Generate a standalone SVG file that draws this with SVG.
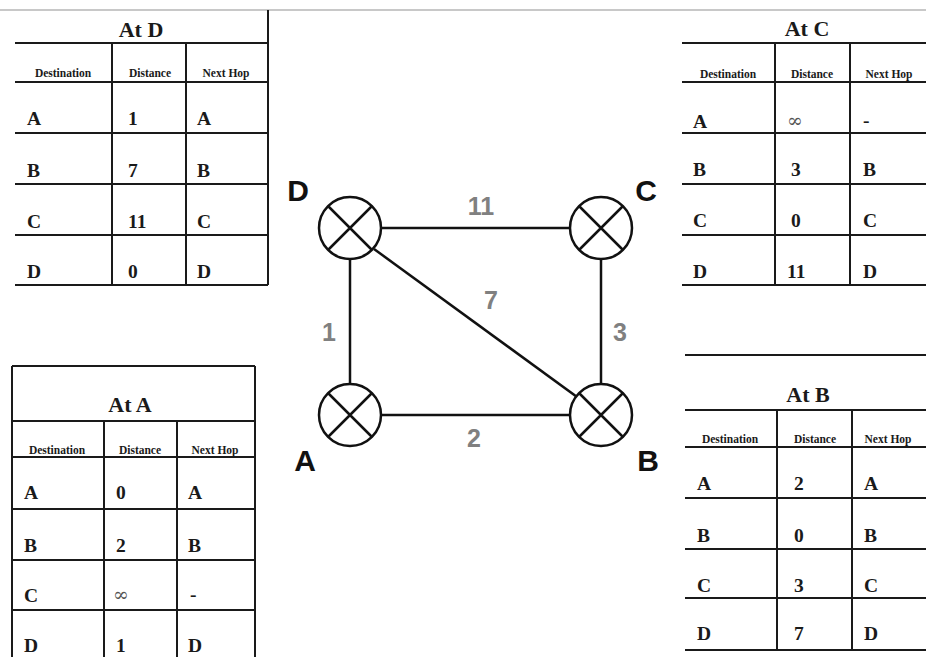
<svg xmlns="http://www.w3.org/2000/svg" width="926" height="657" viewBox="0 0 926 657">
<style>
.tl{stroke:#1a1a1a;stroke-width:2;fill:none}
.ttl{font-family:"Liberation Serif",serif;font-weight:bold;font-size:22px;fill:#1a1a1a;text-anchor:middle}
.hd{font-family:"Liberation Serif",serif;font-weight:bold;font-size:11.5px;fill:#1a1a1a;text-anchor:middle}
.cell{font-family:"Liberation Serif",serif;font-weight:bold;font-size:19.5px;fill:#1a1a1a}
.inf{font-family:"DejaVu Serif",serif;font-size:19px;fill:#555}
.edge{stroke:#111;stroke-width:2.5;fill:none}
.node{stroke:#111;stroke-width:2.5;fill:#fff}
.x{stroke:#111;stroke-width:2.5}
.nl{font-family:"Liberation Sans",sans-serif;font-weight:bold;font-size:30px;fill:#111;text-anchor:middle}
.el{font-family:"Liberation Sans",sans-serif;font-weight:bold;font-size:25px;fill:#808080;text-anchor:middle}
</style>
<rect width="926" height="657" fill="#fff"/>
<line x1="0" y1="10" x2="926" y2="10" stroke="#c8c8c8" stroke-width="2"/>

<g id="table-D">
<path class="tl" d="M268 10 V285 M15 43 H268 M15 82 H268 M15 133 H268 M15 184 H268 M15 235 H268 M15 285 H268 M112 43 V285 M186 43 V285"/>
<text class="ttl" x="141" y="37">At D</text>
<text class="hd" x="63" y="77">Destination</text>
<text class="hd" x="150" y="77">Distance</text>
<text class="hd" x="226" y="77">Next Hop</text>
<text class="cell" x="27" y="125">A</text><text class="cell" x="128" y="125">1</text><text class="cell" x="197" y="125">A</text>
<text class="cell" x="27" y="177">B</text><text class="cell" x="128" y="177">7</text><text class="cell" x="197" y="177">B</text>
<text class="cell" x="27" y="228">C</text><text class="cell" x="128" y="228">11</text><text class="cell" x="197" y="228">C</text>
<text class="cell" x="27" y="278">D</text><text class="cell" x="128" y="278">0</text><text class="cell" x="197" y="278">D</text>
</g>

<g id="table-C">
<path class="tl" d="M682 43 H926 M682 82 H926 M682 133 H926 M682 184 H926 M682 235 H926 M682 285 H926 M775 43 V285 M850 43 V285"/>
<text class="ttl" x="807" y="36">At C</text>
<text class="hd" x="728" y="78">Destination</text>
<text class="hd" x="812" y="78">Distance</text>
<text class="hd" x="889" y="78">Next Hop</text>
<text class="cell" x="693" y="128">A</text><text class="inf" x="787" y="127">∞</text><text class="cell" x="863" y="127">-</text>
<text class="cell" x="693" y="176">B</text><text class="cell" x="791" y="176">3</text><text class="cell" x="863" y="176">B</text>
<text class="cell" x="693" y="227">C</text><text class="cell" x="791" y="227">0</text><text class="cell" x="863" y="227">C</text>
<text class="cell" x="693" y="278">D</text><text class="cell" x="787" y="278">11</text><text class="cell" x="863" y="278">D</text>
</g>

<g id="table-A">
<path class="tl" d="M12 366 H255 M12 366 V657 M255 366 V657 M12 421 H255 M12 457 H255 M12 509 H255 M12 560 H255 M12 610 H255 M104 421 V657 M177 421 V657"/>
<text class="ttl" x="130" y="412">At A</text>
<text class="hd" x="57" y="454">Destination</text>
<text class="hd" x="140" y="454">Distance</text>
<text class="hd" x="215" y="454">Next Hop</text>
<text class="cell" x="24" y="499">A</text><text class="cell" x="116" y="499">0</text><text class="cell" x="188" y="499">A</text>
<text class="cell" x="24" y="552">B</text><text class="cell" x="116" y="552">2</text><text class="cell" x="188" y="552">B</text>
<text class="cell" x="24" y="602">C</text><text class="inf" x="113" y="601">∞</text><text class="cell" x="190" y="601">-</text>
<text class="cell" x="24" y="652">D</text><text class="cell" x="116" y="652">1</text><text class="cell" x="188" y="652">D</text>
</g>

<g id="table-B">
<path class="tl" d="M685 355 H926 M685 410 H926 M685 447 H926 M685 498 H926 M685 549 H926 M685 598 H926 M685 650 H926 M777 410 V650 M852 410 V650"/>
<text class="ttl" x="808" y="402">At B</text>
<text class="hd" x="730" y="443">Destination</text>
<text class="hd" x="815" y="443">Distance</text>
<text class="hd" x="888" y="443">Next Hop</text>
<text class="cell" x="697" y="490">A</text><text class="cell" x="794" y="490">2</text><text class="cell" x="864" y="490">A</text>
<text class="cell" x="697" y="542">B</text><text class="cell" x="794" y="542">0</text><text class="cell" x="864" y="542">B</text>
<text class="cell" x="697" y="592">C</text><text class="cell" x="794" y="592">3</text><text class="cell" x="864" y="592">C</text>
<text class="cell" x="697" y="640">D</text><text class="cell" x="794" y="640">7</text><text class="cell" x="864" y="640">D</text>
</g>

<g id="connectors">
<line class="edge" x1="381" y1="228" x2="570" y2="228"/>
<line class="edge" x1="350" y1="259" x2="350" y2="384"/>
<line class="edge" x1="601" y1="259" x2="601" y2="384"/>
<line class="edge" x1="381" y1="415" x2="570" y2="415"/>
<line class="edge" x1="374" y1="249" x2="599" y2="413"/>
<text class="el" x="481" y="215">11</text>
<text class="el" x="491" y="309">7</text>
<text class="el" x="329" y="341">1</text>
<text class="el" x="620" y="341">3</text>
<text class="el" x="474" y="447">2</text>
</g>

<g id="node-D">
<circle class="node" cx="350" cy="228" r="31"/>
<path class="x" d="M328 206 L372 250 M372 206 L328 250"/>
<text class="nl" x="298" y="201">D</text>
</g>
<g id="node-C">
<circle class="node" cx="601" cy="228" r="31"/>
<path class="x" d="M579 206 L623 250 M623 206 L579 250"/>
<text class="nl" x="646" y="201">C</text>
</g>
<g id="node-A">
<circle class="node" cx="350" cy="415" r="31"/>
<path class="x" d="M328 393 L372 437 M372 393 L328 437"/>
<text class="nl" x="305" y="471">A</text>
</g>
<g id="node-B">
<circle class="node" cx="601" cy="415" r="31"/>
<path class="x" d="M579 393 L623 437 M623 393 L579 437"/>
<text class="nl" x="648" y="471">B</text>
</g>
</svg>
